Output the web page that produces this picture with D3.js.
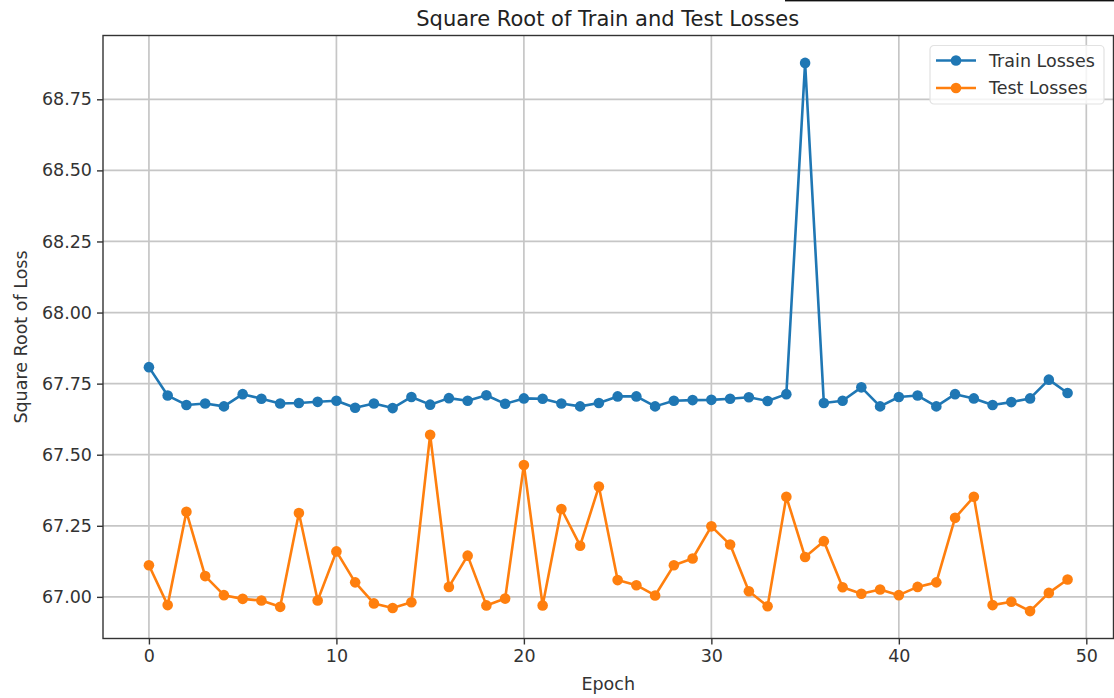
<!DOCTYPE html>
<html>
<head>
<meta charset="utf-8">
<script src="https://cdn.jsdelivr.net/npm/d3@7/dist/d3.min.js"></script>
<style>
  html, body { margin: 0; padding: 0; background: #fff; }
  svg { display: block; font-family: "DejaVu Sans", sans-serif; }
</style>
</head>
<body>
<svg id="chart" width="1114" height="698"></svg>
<script>
// Square root of per-epoch losses
const epochs = d3.range(0, 50);
const trainLosses = [
  67.808, 67.708, 67.675, 67.680, 67.670, 67.713, 67.697, 67.680, 67.682, 67.686,
  67.690, 67.665, 67.680, 67.664, 67.703, 67.676, 67.699, 67.690, 67.709, 67.679,
  67.698, 67.697, 67.680, 67.670, 67.682, 67.705, 67.705, 67.670, 67.690, 67.692,
  67.693, 67.697, 67.702, 67.689, 67.713, 68.878, 67.682, 67.690, 67.737, 67.670,
  67.703, 67.708, 67.670, 67.713, 67.698, 67.675, 67.685, 67.698, 67.764, 67.717
];
const testLosses = [
  67.111, 66.971, 67.299, 67.073, 67.006, 66.993, 66.987, 66.965, 67.295, 66.987,
  67.160, 67.051, 66.977, 66.961, 66.981, 67.570, 67.035, 67.145, 66.970, 66.994,
  67.464, 66.970, 67.309, 67.180, 67.388, 67.059, 67.041, 67.005, 67.111, 67.135,
  67.248, 67.184, 67.020, 66.967, 67.352, 67.140, 67.196, 67.034, 67.011, 67.026,
  67.006, 67.035, 67.051, 67.278, 67.352, 66.971, 66.983, 66.950, 67.014, 67.061
];
const xTicks = [0, 10, 20, 30, 40, 50];
const yTicks = [67.00, 67.25, 67.50, 67.75, 68.00, 68.25, 68.50, 68.75];
const seriesNames = ["Train Losses", "Test Losses"];
const seriesColors = ["#1f77b4", "#ff7f0e"];

const svg = d3.select("#chart");
const plot = { left: 103, right: 1113.5, top: 35.5, bottom: 638.5 };

// 5% padding on both axes
const xExt = d3.extent(epochs);
const xPad = (xExt[1] - xExt[0]) * 0.05;
const allY = trainLosses.concat(testLosses);
const yExt = d3.extent(allY);
const yPad = (yExt[1] - yExt[0]) * 0.05;

const x = d3.scaleLinear().domain([xExt[0] - xPad, xExt[1] + xPad]).range([plot.left, plot.right]);
const y = d3.scaleLinear().domain([yExt[0] - yPad, yExt[1] + yPad]).range([plot.bottom, plot.top]);

// stray rule along the top edge
svg.append("rect").attr("x", 785).attr("y", 0).attr("width", 329).attr("height", 1.4).attr("fill", "#111");

// grid
const grid = svg.append("g").attr("stroke", "#c6c6c6").attr("stroke-width", 1.7);
grid.selectAll("line.gx").data(xTicks).join("line")
  .attr("x1", d => x(d)).attr("x2", d => x(d))
  .attr("y1", plot.top).attr("y2", plot.bottom);
grid.selectAll("line.gy").data(yTicks).join("line")
  .attr("x1", plot.left).attr("x2", plot.right)
  .attr("y1", d => y(d)).attr("y2", d => y(d));

// axes
const xAxis = d3.axisBottom(x).tickValues(xTicks).tickFormat(d3.format("d")).tickSizeInner(6).tickSizeOuter(0).tickPadding(5);
const yAxis = d3.axisLeft(y).tickValues(yTicks).tickFormat(d3.format(".2f")).tickSizeInner(6).tickSizeOuter(0).tickPadding(5);

const gx = svg.append("g").attr("transform", `translate(0,${plot.bottom})`).call(xAxis);
const gy = svg.append("g").attr("transform", `translate(${plot.left},0)`).call(yAxis);
[gx, gy].forEach(g => {
  g.select(".domain").remove();
  g.selectAll(".tick line").attr("stroke", "#333").attr("stroke-width", 1.4);
  g.selectAll(".tick text").attr("fill", "#333").style("font-size", "17.5px").style("font-family", "DejaVu Sans");
});

// series
const line = d3.line().x((d, i) => x(epochs[i])).y(d => y(d));
[trainLosses, testLosses].forEach((vals, k) => {
  const g = svg.append("g");
  g.append("path").datum(vals).attr("d", line)
    .attr("fill", "none").attr("stroke", seriesColors[k]).attr("stroke-width", 2.6)
    .attr("stroke-linejoin", "round");
  g.selectAll("circle").data(vals).join("circle")
    .attr("cx", (d, i) => x(epochs[i])).attr("cy", d => y(d)).attr("r", 5.3)
    .attr("fill", seriesColors[k]);
});

// frame
svg.append("rect").attr("x", plot.left).attr("y", plot.top)
  .attr("width", plot.right - plot.left).attr("height", plot.bottom - plot.top)
  .attr("fill", "none").attr("stroke", "#333").attr("stroke-width", 1.4);

// labels
svg.append("text").attr("x", (plot.left + plot.right) / 2 - 0.5).attr("y", 26)
  .attr("text-anchor", "middle").attr("fill", "#222").style("font-size", "21px")
  .text("Square Root of Train and Test Losses");
svg.append("text").attr("x", (plot.left + plot.right) / 2).attr("y", 690)
  .attr("text-anchor", "middle").attr("fill", "#333").style("font-size", "17.5px")
  .text("Epoch");
svg.append("text").attr("transform", `translate(27,${(plot.top + plot.bottom) / 2}) rotate(-90)`)
  .attr("text-anchor", "middle").attr("fill", "#333").style("font-size", "17.5px")
  .text("Square Root of Loss");

// legend
const lg = svg.append("g").attr("transform", "translate(930,45.5)");
lg.append("rect").attr("width", 174).attr("height", 58.5).attr("rx", 4)
  .attr("fill", "#fff").attr("fill-opacity", 0.8).attr("stroke", "#e2e2e2").attr("stroke-width", 1.2);
seriesNames.forEach((name, k) => {
  const cy = 15 + k * 27.5;
  lg.append("line").attr("x1", 6).attr("x2", 46).attr("y1", cy).attr("y2", cy)
    .attr("stroke", seriesColors[k]).attr("stroke-width", 2.6);
  lg.append("circle").attr("cx", 26).attr("cy", cy).attr("r", 5.3).attr("fill", seriesColors[k]);
  lg.append("text").attr("x", 59).attr("y", cy).attr("dy", "0.35em")
    .attr("fill", "#333").style("font-size", "17.5px").text(name);
});
</script>
</body>
</html>
